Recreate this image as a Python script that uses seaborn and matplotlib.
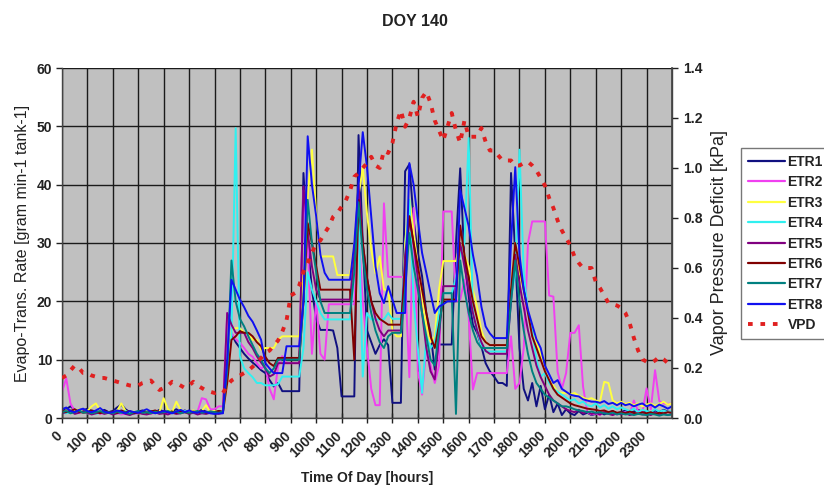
import numpy as np
import pandas as pd
import matplotlib
matplotlib.use("Agg")
import matplotlib.pyplot as plt
from matplotlib.lines import Line2D
from matplotlib.ticker import MultipleLocator, FormatStrFormatter
from matplotlib.transforms import ScaledTranslation
import seaborn as sns

# 10-minute samples over the day, in hours (0:00 .. 24:00)
hours = np.arange(145) / 6.0
hour_labels = [str(h * 100) for h in range(24)]

tanks = ["ETR1", "ETR2", "ETR3", "ETR4", "ETR5", "ETR6", "ETR7", "ETR8"]
colors = ["#101080", "#F040F0", "#FFFF40", "#30F0F0",
          "#800080", "#800000", "#008080", "#1010F0"]

# evapo-transpiration rate per tank [gram min-1 tank-1], one row per hour
etr1 = [1.2, 1.5, 2.0, 1.4, 1.0, 1.3,
        1.6, 1.2, 0.9, 1.1, 1.4, 1.0,
        1.2, 1.8, 2.3, 1.5, 1.0, 0.8,
        1.1, 1.3, 0.9, 1.2, 1.0, 1.4,
        1.1, 0.8, 1.2, 1.5, 1.0, 1.3,
        0.9, 1.2, 1.0, 1.4, 1.1, 0.9,
        1.0, 1.2, 1.1, 9.0, 14.5, 13.0,
        12.0, 11.0, 10.2, 9.5, 8.9, 8.2,
        7.7, 6.5, 5.4, 6.0, 4.6, 4.6,
        4.6, 4.6, 4.6, 42.0, 30.0, 22.0,
        17.0, 15.1, 15.1, 15.1, 15.0, 12.0,
        3.7, 3.7, 3.7, 3.7, 48.5, 30.0,
        15.0, 13.0, 11.0, 12.5, 13.5, 12.5,
        2.6, 2.6, 2.6, 42.3, 43.5, 34.0,
        28.3, 24.3, 18.0, 14.6, 8.3, 12.6,
        12.6, 12.6, 12.6, 30.0, 42.8, 27.0,
        20.9, 16.0, 14.6, 12.3, 9.4, 8.0,
        7.1, 6.0, 6.0, 5.5, 42.0, 28.0,
        12.0, 5.0, 3.0, 6.0, 2.0, 5.5,
        1.5, 4.0, 1.0, 2.5, 0.5, 1.5,
        0.8, 0.5, 1.2, 0.6, 0.9, 0.5,
        0.7, 1.0, 0.6, 0.9, 1.2, 0.8,
        1.0, 1.3, 0.9, 1.1, 1.4, 1.0,
        1.2, 0.9, 1.3, 1.0, 1.4, 1.1,
        1.0]

etr2 = [4.5, 6.8, 2.5, 1.2, 0.9, 1.1,
        0.8, 1.0, 1.2, 0.7, 0.9, 1.0,
        0.7, 0.9, 0.6, 0.8, 1.0, 0.7,
        0.8, 1.1, 0.9, 0.7, 1.0, 0.8,
        0.9, 0.7, 1.0, 0.8, 1.2, 0.9,
        1.0, 0.8, 1.1, 3.4, 3.2, 1.5,
        1.5, 2.0, 2.0, 18.0, 14.6, 13.5,
        12.9, 12.0, 11.0, 10.5, 9.4, 8.5,
        8.9, 5.0, 3.2, 8.9, 10.6, 9.4,
        9.4, 9.4, 9.4, 39.0, 30.0, 11.0,
        20.0, 11.0, 10.0, 19.5, 19.5, 19.5,
        19.5, 19.5, 19.5, 19.5, 32.0, 20.0,
        12.0, 5.0, 2.2, 2.2, 36.8, 24.2,
        24.2, 24.2, 24.2, 24.0, 7.0, 36.0,
        8.0, 4.0, 12.0, 9.0, 6.0, 9.0,
        35.4, 35.4, 35.4, 20.0, 20.3, 23.7,
        17.4, 4.9, 7.7, 7.7, 7.7, 7.7,
        7.7, 7.7, 7.7, 7.7, 14.0, 5.0,
        6.0, 12.0, 30.0, 33.7, 33.7, 33.7,
        33.7, 21.0, 20.8, 7.9, 5.0, 7.7,
        14.6, 14.6, 15.9, 5.4, 1.0, 0.6,
        0.8, 0.5, 1.2, 0.7, 0.9, 0.6,
        0.8, 1.0, 0.7, 3.0, 1.2, 0.9,
        5.1, 1.5, 8.2, 2.9, 2.5, 2.4,
        2.5]

etr3 = [1.0, 1.3, 0.9, 1.2, 1.5, 1.0,
        1.2, 2.0, 2.5, 1.3, 1.0, 0.8,
        1.0, 1.2, 2.5, 1.2, 0.9, 1.1,
        0.8, 1.0, 1.3, 0.9, 1.2, 1.0,
        3.4, 1.5, 1.0, 2.8, 1.4, 0.9,
        1.0, 1.3, 1.0, 1.2, 2.2, 1.0,
        1.2, 1.0, 1.1, 6.0, 15.1, 15.4,
        15.4, 14.6, 14.6, 13.4, 13.4, 11.7,
        12.0, 12.0, 12.0, 13.4, 14.0, 14.0,
        14.0, 14.0, 14.0, 25.0, 38.0, 46.0,
        35.0, 27.7, 27.7, 27.7, 27.7, 24.5,
        24.5, 24.5, 24.5, 30.0, 38.0, 43.0,
        35.0, 28.9, 24.8, 27.7, 22.0, 22.0,
        15.0, 14.0, 14.0, 30.0, 37.4, 32.0,
        26.0, 20.0, 16.0, 13.0, 14.0, 22.0,
        26.9, 26.9, 26.9, 26.9, 30.0, 28.0,
        26.0, 22.0, 19.0, 15.0, 13.0, 12.5,
        12.5, 12.5, 12.5, 12.5, 22.0, 30.0,
        25.0, 22.0, 18.0, 15.0, 13.0, 11.0,
        8.0, 6.5, 5.5, 4.5, 4.3, 4.3,
        4.0, 4.3, 3.8, 3.5, 3.2, 3.4,
        3.0, 2.8, 6.2, 6.0, 3.0, 2.5,
        2.8, 2.4, 2.6, 2.2, 2.5, 2.0,
        2.3, 2.5, 2.1, 2.4, 2.8, 2.3,
        2.5]

etr4 = [1.0, 0.8, 1.1, 0.9, 1.2, 1.0,
        0.8, 1.0, 0.7, 0.9, 1.1, 0.8,
        0.9, 1.0, 0.8, 1.2, 0.9, 0.7,
        1.0, 0.8, 0.9, 1.1, 0.8, 1.0,
        0.9, 1.1, 0.8, 1.0, 0.9, 1.2,
        1.0, 0.8, 1.0, 0.9, 0.8, 1.0,
        0.9, 1.0, 1.0, 8.0, 14.0, 49.7,
        10.6, 8.5, 7.7, 7.0, 6.0, 6.0,
        5.6, 5.6, 5.6, 5.8, 7.1, 7.1,
        7.1, 7.1, 7.1, 12.0, 25.0, 22.0,
        20.0, 18.0, 16.9, 16.9, 16.9, 16.9,
        16.9, 16.9, 16.9, 25.0, 35.0, 7.1,
        18.0, 16.9, 16.9, 16.9, 16.9, 18.0,
        17.0, 17.0, 17.0, 28.0, 37.4, 20.0,
        12.0, 4.3, 14.0, 12.0, 13.0, 18.0,
        21.4, 21.4, 21.4, 24.0, 28.0, 30.0,
        48.0, 18.0, 15.0, 12.3, 11.4, 11.4,
        11.4, 11.4, 11.4, 11.4, 20.0, 25.0,
        46.0, 24.9, 18.0, 15.1, 10.0, 7.1,
        7.7, 6.0, 5.0, 4.5, 4.0, 3.5,
        3.0, 3.2, 2.5, 2.8, 2.2, 2.0,
        2.5, 1.8, 2.2, 1.6, 2.0, 1.5,
        1.8, 1.5, 1.2, 1.6, 1.0, 1.4,
        1.2, 1.0, 1.5, 1.1, 1.3, 1.0,
        1.2]

etr5 = [0.8, 1.0, 1.3, 0.7, 0.9, 1.1,
        0.9, 0.6, 0.8, 1.0, 0.7, 0.9,
        0.6, 0.8, 1.0, 0.7, 0.5, 0.8,
        0.9, 0.7, 0.6, 0.8, 1.0, 0.7,
        0.8, 0.6, 0.9, 0.7, 0.8, 1.0,
        0.7, 0.9, 0.6, 0.8, 0.7, 0.9,
        0.8, 0.7, 0.9, 18.0, 16.0, 14.6,
        14.6, 14.6, 13.0, 12.0, 10.6, 9.5,
        8.5, 7.1, 7.5, 9.4, 9.4, 9.4,
        9.4, 9.4, 9.4, 39.7, 32.0, 26.0,
        22.0, 20.3, 20.3, 20.3, 20.3, 20.3,
        20.3, 20.3, 20.3, 28.0, 40.0, 30.0,
        24.0, 20.0, 17.0, 15.0, 14.0, 15.0,
        15.0, 15.0, 15.0, 28.0, 34.0, 30.0,
        24.0, 18.0, 12.0, 8.0, 6.6, 14.0,
        22.6, 22.6, 22.6, 22.6, 30.0, 26.0,
        22.0, 18.0, 15.0, 13.0, 11.5, 11.0,
        11.0, 11.0, 11.0, 11.0, 20.0, 28.0,
        23.0, 19.0, 15.0, 12.0, 9.0, 7.0,
        5.5, 4.0, 3.0, 2.5, 2.0, 1.5,
        1.2, 1.0, 1.4, 0.8, 1.1, 0.7,
        0.9, 0.6, 1.0, 0.7, 0.5, 0.8,
        0.6, 0.9, 0.5, 0.7, 0.8, 0.6,
        0.7, 0.5, 0.9, 0.6, 0.8, 0.5,
        0.7]

etr6 = [1.3, 1.0, 1.2, 1.5, 1.1, 0.9,
        1.0, 1.3, 1.1, 0.8, 1.2, 1.0,
        1.1, 0.9, 1.3, 1.0, 1.2, 0.8,
        1.0, 1.2, 0.9, 1.1, 1.3, 1.0,
        1.2, 1.0, 1.1, 0.9, 1.2, 1.0,
        0.9, 1.1, 1.0, 1.2, 0.9, 1.1,
        1.0, 1.2, 1.0, 6.0, 13.4, 14.0,
        14.9, 14.6, 14.6, 14.0, 13.0, 12.3,
        10.5, 9.4, 8.9, 10.3, 10.3, 10.3,
        10.3, 10.3, 10.3, 20.0, 33.4, 30.0,
        26.0, 22.0, 22.0, 22.0, 22.0, 22.0,
        22.0, 22.0, 22.0, 10.0, 37.4, 30.0,
        24.0, 20.0, 18.0, 17.0, 16.5, 16.0,
        16.0, 16.0, 16.0, 25.0, 34.6, 30.0,
        26.0, 22.0, 18.0, 14.0, 12.0, 16.0,
        20.3, 20.3, 20.3, 20.3, 33.0, 28.0,
        24.0, 20.0, 17.0, 14.0, 13.0, 12.5,
        12.5, 12.5, 12.5, 12.5, 22.0, 30.0,
        26.0, 22.0, 18.0, 14.0, 12.0, 10.0,
        8.0, 6.5, 5.0, 4.0, 3.5, 3.0,
        2.5, 2.2, 2.0, 1.8, 1.6, 1.5,
        1.4, 1.2, 1.3, 1.0, 1.2, 0.9,
        1.0, 0.8, 1.1, 0.9, 0.7, 1.0,
        0.8, 1.0, 0.7, 0.9, 0.8, 1.0,
        0.9]

etr7 = [1.0, 1.2, 0.8, 1.0, 1.3, 0.9,
        1.1, 0.8, 1.0, 1.2, 0.9, 1.0,
        0.8, 1.1, 0.9, 1.0, 0.7, 1.0,
        1.2, 0.9, 1.0, 0.8, 1.1, 0.9,
        1.0, 1.2, 0.9, 1.1, 0.8, 1.0,
        0.9, 1.0, 1.2, 0.9, 1.0, 1.1,
        1.0, 0.9, 1.1, 8.0, 27.0, 20.0,
        17.0, 15.7, 14.0, 12.5, 11.0, 10.0,
        8.5, 7.7, 8.5, 10.0, 10.0, 10.0,
        10.0, 10.0, 10.0, 20.0, 37.4, 30.0,
        25.0, 20.0, 18.0, 18.0, 18.0, 18.0,
        18.0, 18.0, 18.0, 25.0, 37.0, 28.0,
        22.0, 18.0, 15.0, 13.0, 12.0, 14.0,
        14.6, 14.6, 14.6, 22.0, 31.7, 26.0,
        22.0, 18.0, 14.0, 10.0, 9.0, 15.0,
        21.4, 21.4, 21.4, 0.7, 27.0, 22.0,
        18.0, 15.0, 13.0, 12.0, 12.0, 12.0,
        12.0, 12.0, 12.0, 12.0, 20.0, 27.0,
        20.0, 15.0, 11.0, 8.0, 6.0, 5.0,
        4.0, 3.5, 3.0, 2.5, 2.0, 2.0,
        1.8, 1.5, 1.3, 1.2, 1.0, 1.1,
        0.9, 1.0, 0.8, 0.7, 0.9, 0.6,
        0.8, 0.6, 0.7, 0.5, 0.7, 0.6,
        0.5, 0.7, 0.6, 0.4, 0.6, 0.5,
        0.6]

etr8 = [1.5, 1.8, 1.2, 1.0, 1.4, 1.6,
        1.2, 1.0, 1.3, 1.7, 1.1, 0.9,
        1.0, 1.3, 1.1, 0.8, 1.2, 1.0,
        0.9, 1.2, 1.5, 1.1, 0.8, 1.0,
        1.2, 1.0, 0.8, 1.1, 1.4, 1.0,
        1.3, 1.0, 0.9, 1.2, 1.0, 0.8,
        0.7, 0.8, 0.8, 10.0, 23.7, 22.0,
        20.3, 19.0, 17.5, 16.5, 15.0, 13.4,
        9.4, 8.5, 7.7, 7.7, 7.7, 12.3,
        12.3, 12.3, 12.3, 20.0, 48.3, 40.0,
        34.6, 28.0, 24.9, 23.7, 23.7, 23.7,
        23.7, 23.7, 23.7, 30.0, 40.0, 49.0,
        43.0, 34.6, 26.0, 21.4, 19.7, 22.6,
        20.3, 18.0, 18.0, 18.0, 43.7, 40.0,
        34.0, 28.3, 24.9, 21.4, 18.0, 19.1,
        19.5, 20.0, 20.0, 20.0, 39.0, 36.0,
        32.9, 28.0, 24.3, 19.1, 15.7, 14.5,
        13.7, 13.7, 13.7, 13.7, 30.0, 43.0,
        28.0, 22.0, 18.5, 16.0, 13.5, 12.0,
        9.0, 7.5, 6.0, 6.5, 5.0, 4.5,
        4.0, 3.8, 3.7, 3.2, 3.0, 2.8,
        2.8, 2.6, 2.9, 2.4, 2.6, 2.2,
        2.6, 2.2, 2.4, 2.0, 2.3, 2.5,
        2.0, 2.3, 1.8, 2.3, 2.0, 1.6,
        2.0]

# vapour pressure deficit [kPa]
vpd = [0.16, 0.17, 0.19, 0.21, 0.20, 0.18,
       0.18, 0.17, 0.165, 0.16, 0.16, 0.155,
       0.15, 0.145, 0.14, 0.135, 0.13, 0.128,
       0.13, 0.14, 0.145, 0.15, 0.13, 0.112,
       0.12, 0.13, 0.145, 0.14, 0.13, 0.12,
       0.13, 0.145, 0.13, 0.12, 0.11, 0.105,
       0.10, 0.105, 0.10, 0.13, 0.15, 0.16,
       0.17, 0.18, 0.19, 0.205, 0.22, 0.24,
       0.26, 0.27, 0.29, 0.31, 0.345, 0.39,
       0.49, 0.50, 0.53, 0.585, 0.62, 0.66,
       0.70, 0.71, 0.74, 0.765, 0.805, 0.82,
       0.845, 0.87, 0.91, 0.965, 0.98, 1.0,
       1.02, 1.045, 1.01, 1.0, 1.07, 1.06,
       1.1, 1.18, 1.23, 1.165, 1.2, 1.265,
       1.205, 1.28, 1.305, 1.26, 1.19, 1.15,
       1.11, 1.165, 1.22, 1.15, 1.1, 1.19,
       1.125, 1.125, 1.125, 1.16, 1.105, 1.07,
       1.07, 1.05, 1.03, 1.03, 1.03, 1.01,
       1.01, 1.02, 1.025, 1.01, 0.99, 0.96,
       0.93, 0.88, 0.84, 0.79, 0.75, 0.72,
       0.69, 0.645, 0.62, 0.60, 0.60, 0.60,
       0.545, 0.52, 0.49, 0.46, 0.455, 0.45,
       0.44, 0.42, 0.38, 0.32, 0.27, 0.235,
       0.225, 0.22, 0.23, 0.245, 0.235, 0.22,
       0.20]

series = [etr1, etr2, etr3, etr4, etr5, etr6, etr7, etr8]
df = pd.concat(
    [pd.DataFrame({"hour": hours, "rate": vals, "tank": name})
     for name, vals in zip(tanks, series)],
    ignore_index=True)

sns.set_theme(style="ticks")
plt.rcParams["font.family"] = ["Liberation Sans", "DejaVu Sans"]

TXT = "#222222"
VPD_COLOR = "#E02020"
VPD_STYLE = (0, (1.2, 2.0))

W, H = 824, 488
fig = plt.figure(figsize=(W / 100, H / 100), dpi=100)
ax = fig.add_axes([62 / W, 1 - 418 / H, 610 / W, 350 / H])
ax.set_facecolor("#C0C0C0")

sns.lineplot(data=df, x="hour", y="rate", hue="tank", hue_order=tanks,
             palette=colors, estimator=None, sort=False, lw=1.4,
             legend=False, ax=ax)

ax.set_xlim(0, 24)
ax.set_ylim(0, 60)
ax.yaxis.set_major_locator(MultipleLocator(10))
ax.set_xticks(range(24))
ax.tick_params(axis="y", labelsize=10, direction="out", length=4,
               width=1, colors=TXT, pad=3)
ax.tick_params(axis="x", direction="inout", length=7, width=1,
               colors=TXT, pad=4)
ax.set_xticklabels(hour_labels, rotation=45, ha="right",
                   rotation_mode="anchor", fontweight="bold", fontsize=10)
# nudge the slanted hour labels a little to the left of their ticks
shift = ScaledTranslation(-7 / 100, 0, fig.dpi_scale_trans)
for lab in ax.get_xticklabels():
    lab.set_transform(lab.get_transform() + shift)
for lab in ax.get_yticklabels():
    lab.set_fontweight("bold")
ax.grid(True, color="#1a1a1a", lw=1.0)
ax.set_axisbelow(True)
for side in ["top", "right", "left", "bottom"]:
    ax.spines[side].set_color("#444444")
    ax.spines[side].set_linewidth(1.0)
ax.spines["top"].set_visible(False)

ax.set_xlabel("Time Of Day [hours]", fontsize=10, fontweight="bold",
              labelpad=8, color=TXT)
ax.set_ylabel("Evapo-Trans. Rate [gram min-1 tank-1]", fontsize=11.5,
              labelpad=5, color=TXT)

ax2 = ax.twinx()
sns.lineplot(x=hours, y=vpd, ax=ax2, color=VPD_COLOR, lw=2.8,
             linestyle=VPD_STYLE, estimator=None, sort=False)
ax2.set_ylim(0, 1.4)
ax2.yaxis.set_major_locator(MultipleLocator(0.2))
ax2.yaxis.set_major_formatter(FormatStrFormatter("%.1f"))
ax2.tick_params(axis="y", labelsize=10, direction="out", length=4,
                width=1, colors=TXT, pad=4)
for lab in ax2.get_yticklabels():
    lab.set_fontweight("bold")
ax2.set_ylabel("Vapor Pressure Deficit [kPa]", fontsize=13, labelpad=6,
               color=TXT)
for side in ["top", "left", "bottom"]:
    ax2.spines[side].set_visible(False)
ax2.spines["right"].set_color("#444444")

fig.text(0.503, 1 - 22 / H, "DOY 140", ha="center", va="center",
         fontsize=11.5, fontweight="bold", color=TXT)

handles = [Line2D([], [], color=c, lw=1.6) for c in colors]
handles.append(Line2D([], [], color=VPD_COLOR, lw=2.8, linestyle=VPD_STYLE))
leg = fig.legend(handles, tanks + ["VPD"], loc="upper left",
                 bbox_to_anchor=(741 / W, 1 - 148 / H), frameon=True,
                 fancybox=False, fontsize=10, handlelength=2.7,
                 handletextpad=0.15, labelspacing=0.46, borderpad=0.5,
                 borderaxespad=0)
leg.get_frame().set_edgecolor("#555555")
leg.get_frame().set_linewidth(1.0)
for t in leg.get_texts():
    t.set_fontweight("bold")
    t.set_color(TXT)

fig.savefig("out.png", dpi=100, facecolor="white")
